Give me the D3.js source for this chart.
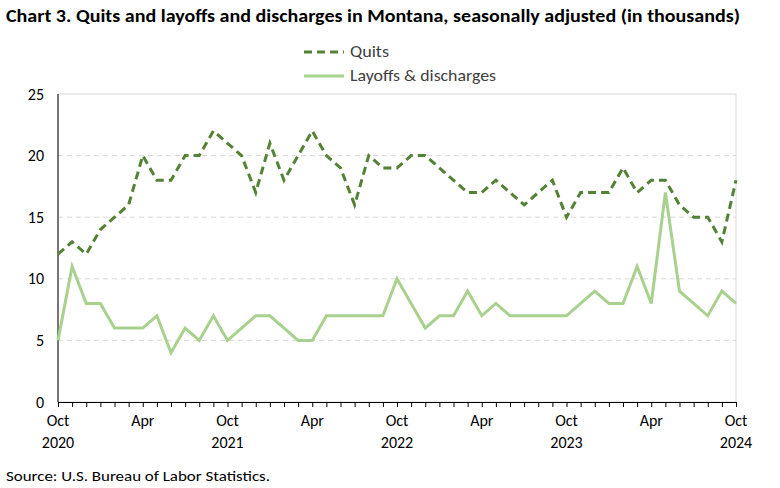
<!DOCTYPE html>
<html><head><meta charset="utf-8">
<script src="https://cdn.jsdelivr.net/npm/d3@7"></script>
<style>body{margin:0;background:#fff;font-family:Calibri,Carlito,Lato,sans-serif;}</style>
</head><body><div id="chart"></div>
<script>
// Données (Oct 2020 - Oct 2024, mensuel)
const startMonth = new Date(2020, 9, 1);
const quits = [12,13,12, 14,15,16,20,18,18,20,20,22,21,20,17, 21,18,20,22,20,19,16,20,19,19,20,20,
  19,18,17,17,18,17,16,17,18,15,17,17, 17,19,17,18,18,16,15,15,13,18];
const layoffs = [5,11,8, 8,6,6,6,7,4,6,5,7,5,6,7, 7,6,5,5,7,7,7,7,7,10,8,6,
  7,7,9,7,8,7,7,7,7,7,8,9, 8,8,11,8,17,9,8,7,9,8];
const yTicks = [0,5,10,15,20,25];
const monthNames = ["Jan","Feb","Mar","Apr","May","Jun","Jul","Aug","Sep","Oct","Nov","Dec"];

const width = 780, height = 488;
const margin = { top: 94, right: 44, bottom: 86, left: 58 };
const chartWidth = width - margin.left - margin.right;
const chartHeight = height - margin.top - margin.bottom;

const svg = d3.select("#chart").append("svg").attr("width", width).attr("height", height);

svg.append("text").attr("x", 6).attr("y", 22).style("font-size", "18px").style("font-weight", "bold")
  .attr("textLength", 734).attr("lengthAdjust", "spacingAndGlyphs")
  .attr("fill", "#000").text("Chart 3. Quits and layoffs and discharges in Montana, seasonally adjusted (in thousands)");

const g = svg.append("g").attr("transform", `translate(${margin.left},${margin.top})`);

const x = d3.scaleLinear().domain([0, quits.length - 1]).range([0, chartWidth]);
const y = d3.scaleLinear().domain([0, 25]).range([chartHeight, 0]);

// Grille
g.selectAll(".grid").data(yTicks.filter(d => d > 0 && d < 25)).enter().append("line")
  .attr("x1", 0).attr("x2", chartWidth).attr("y1", d => y(d)).attr("y2", d => y(d))
  .attr("stroke", "#d9d9d9").attr("stroke-dasharray", "5,4");
g.append("rect").attr("width", chartWidth).attr("height", chartHeight)
  .attr("fill", "none").attr("stroke", "#d9d9d9");

// Axe Y
g.append("line").attr("y1", 0).attr("y2", chartHeight).attr("stroke", "#000");
g.selectAll(".ylab").data(yTicks).enter().append("text")
  .attr("x", -14).attr("y", d => y(d)).attr("dy", "0.35em").attr("text-anchor", "end")
  .style("font-size", "16px").attr("fill", "#000").text(d => d);

// Axe X
const xAxis = g.append("g").attr("transform", `translate(0,${chartHeight})`)
  .call(d3.axisBottom(x).tickValues(d3.range(quits.length)).tickSize(5).tickFormat(""));
xAxis.select(".domain").attr("stroke", "#000");
xAxis.selectAll("line").attr("stroke", "#000");
d3.range(0, quits.length, 6).forEach(i => {
  const dt = new Date(startMonth.getFullYear(), startMonth.getMonth() + i, 1);
  g.append("text").attr("x", x(i)).attr("y", chartHeight + 24).attr("text-anchor", "middle")
    .style("font-size", "16px").attr("fill", "#000").text(monthNames[dt.getMonth()]);
  if (dt.getMonth() === 9)
    g.append("text").attr("x", x(i)).attr("y", chartHeight + 46).attr("text-anchor", "middle")
      .style("font-size", "16px").attr("fill", "#000").text(dt.getFullYear());
});

// Lignes
const line = d3.line().x((d, i) => x(i)).y(d => y(d));
g.append("path").datum(layoffs).attr("d", line).attr("fill", "none")
  .attr("stroke", "#a9d18e").attr("stroke-width", 3);
g.append("path").datum(quits).attr("d", line).attr("fill", "none")
  .attr("stroke", "#548235").attr("stroke-width", 3).attr("stroke-dasharray", "8,5");

// Légende
const leg = svg.append("g");
leg.append("line").attr("x1", 304).attr("x2", 344).attr("y1", 52).attr("y2", 52)
  .attr("stroke", "#548235").attr("stroke-width", 3).attr("stroke-dasharray", "8,5");
leg.append("text").attr("x", 350).attr("y", 57).style("font-size", "16px").attr("fill", "#404040")
  .attr("textLength", 39).attr("lengthAdjust", "spacingAndGlyphs").text("Quits");
leg.append("line").attr("x1", 304).attr("x2", 344).attr("y1", 76).attr("y2", 76)
  .attr("stroke", "#a9d18e").attr("stroke-width", 3);
leg.append("text").attr("x", 350).attr("y", 81).style("font-size", "16px").attr("fill", "#404040")
  .attr("textLength", 146).attr("lengthAdjust", "spacingAndGlyphs").text("Layoffs & discharges");

svg.append("text").attr("x", 6).attr("y", 481).style("font-size", "15px").attr("fill", "#000")
  .attr("textLength", 264).attr("lengthAdjust", "spacingAndGlyphs")
  .text("Source: U.S. Bureau of Labor Statistics.");
</script></body></html>
